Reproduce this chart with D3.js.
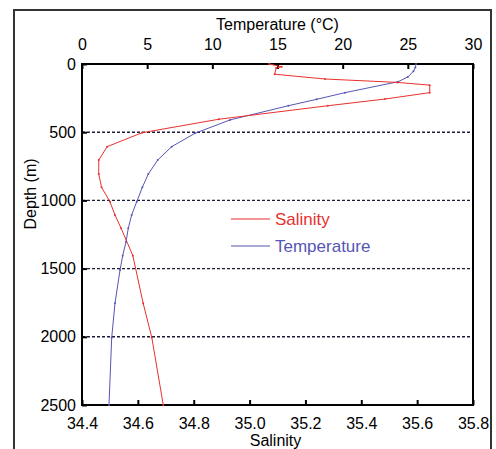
<!DOCTYPE html>
<html>
<head>
<meta charset="utf-8">
<script src="https://cdn.jsdelivr.net/npm/d3@7"></script>
<style>
  body { margin: 0; background: #fff; }
  svg { font-family: "Liberation Sans", Arial, sans-serif; }
</style>
</head>
<body>
<svg id="chart" width="496" height="449"></svg>
<script>
// Data
var salDepth = [0, 20, 30, 75, 110, 135, 155, 210, 257, 306, 405, 504, 606, 704, 806, 904, 1009, 1107, 1204, 1405, 1754, 2006, 2500];
var salinity = [35.07, 35.115, 35.095, 35.09, 35.27, 35.53, 35.645, 35.645, 35.485, 35.28, 34.89, 34.615, 34.49, 34.46, 34.46, 34.47, 34.50, 34.518, 34.54, 34.582, 34.619, 34.65, 34.691];

var tempDepth = [0, 25, 54, 95, 130, 210, 259, 306, 410, 508, 606, 704, 806, 904, 1009, 1107, 1204, 1303, 1405, 1510, 1754, 2006, 2500];
var temperature = [25.63, 25.58, 25.43, 25.0, 24.25, 20.18, 18.0, 15.83, 11.36, 8.67, 6.88, 5.81, 5.09, 4.63, 4.2, 3.81, 3.55, 3.38, 3.12, 2.92, 2.53, 2.28, 2.07];

var salTicks = [34.4, 34.6, 34.8, 35.0, 35.2, 35.4, 35.6, 35.8];
var tempTicks = [0, 5, 10, 15, 20, 25, 30];
var depthTicks = [0, 500, 1000, 1500, 2000, 2500];
var gridDepths = [500, 1000, 1500, 2000];

var legendNames = ["Salinity", "Temperature"];

const red = "#e8312f";
const blue = "#5656b4";

const svg = d3.select("#chart");

// Setup margins
const margin = { top: 64, bottom: 44, left: 82, right: 23 };
const width = 496 - margin.left - margin.right;
const height = 449 - margin.top - margin.bottom;

// outer figure frame
svg.append("path")
  .attr("d", "M14,449 V10 H491 V449")
  .attr("fill", "none")
  .attr("stroke", "#333")
  .attr("stroke-width", 2);

const plot = svg.append("g")
  .attr("transform", `translate(${margin.left}, ${margin.top})`);

const xscale_sal = d3.scaleLinear().domain([34.4, 35.8]).range([0, width]);
const xscale_temp = d3.scaleLinear().domain([0, 30]).range([0, width]);
const yscale = d3.scaleLinear().domain([0, 2500]).range([0, height]);

// grid lines
plot.selectAll(".grid")
  .data(gridDepths)
  .enter()
  .append("line")
  .attr("class", "grid")
  .attr("x1", 0)
  .attr("x2", width)
  .attr("y1", d => yscale(d))
  .attr("y2", d => yscale(d))
  .attr("stroke", "#1c1c3a")
  .attr("stroke-width", 1.4)
  .attr("stroke-dasharray", "3,2");

// axes
const xaxis_sal = d3.axisBottom(xscale_sal).tickValues(salTicks).tickFormat(d3.format(".1f")).tickSizeInner(-5).tickSizeOuter(0).tickPadding(13);
const xaxis_temp = d3.axisTop(xscale_temp).tickValues(tempTicks).tickFormat(d3.format("d")).tickSizeInner(-5).tickSizeOuter(0).tickPadding(14);
const yaxis = d3.axisLeft(yscale).tickValues(depthTicks).tickFormat(d3.format("d")).tickSizeInner(-5).tickSizeOuter(0).tickPadding(6);

function styleAxis(g) {
  g.select(".domain").remove();
  g.selectAll(".tick line").attr("stroke", "#000").attr("stroke-width", 2);
  g.selectAll(".tick text").attr("fill", "#000").style("font-size", "16px")
    .style("font-family", "Liberation Sans, Arial, sans-serif");
}

plot.append("g").attr("transform", `translate(0,${height})`).call(xaxis_sal).call(styleAxis);
plot.append("g").call(xaxis_temp).call(styleAxis);
plot.append("g").call(yaxis).call(styleAxis);

// plot box
plot.append("rect")
  .attr("x", 0).attr("y", 0)
  .attr("width", width).attr("height", height)
  .attr("fill", "none")
  .attr("stroke", "#000")
  .attr("stroke-width", 2);

// lines
const salData = salDepth.map((d, i) => ({ d: d, v: salinity[i] }));
const tempData = tempDepth.map((d, i) => ({ d: d, v: temperature[i] }));

const salLine = d3.line().x(p => xscale_sal(p.v)).y(p => yscale(p.d));
const tempLine = d3.line().x(p => xscale_temp(p.v)).y(p => yscale(p.d));

plot.append("path").datum(tempData)
  .attr("d", tempLine).attr("fill", "none").attr("stroke", blue).attr("stroke-width", 1);
plot.append("path").datum(salData)
  .attr("d", salLine).attr("fill", "none").attr("stroke", red).attr("stroke-width", 1);

plot.selectAll(".tdot").data(tempData).enter().append("circle")
  .attr("class", "tdot")
  .attr("cx", p => xscale_temp(p.v)).attr("cy", p => yscale(p.d))
  .attr("r", 1).attr("fill", blue);
plot.selectAll(".sdot").data(salData).enter().append("circle")
  .attr("class", "sdot")
  .attr("cx", p => xscale_sal(p.v)).attr("cy", p => yscale(p.d))
  .attr("r", 1).attr("fill", red);

// legend
const legend = svg.append("g").attr("transform", "translate(231, 219)");
legend.selectAll("line").data(legendNames).enter().append("line")
  .attr("x1", 0).attr("x2", 39)
  .attr("y1", (d, i) => i * 27).attr("y2", (d, i) => i * 27)
  .attr("stroke", (d, i) => i == 0 ? red : blue)
  .attr("stroke-width", 1.2);
legend.selectAll("text").data(legendNames).enter().append("text")
  .attr("x", 44)
  .attr("y", (d, i) => i * 27 + 6)
  .attr("fill", (d, i) => i == 0 ? red : blue)
  .style("font-size", "17px")
  .text(d => d);

// axis titles
svg.append("text")
  .attr("x", margin.left + width / 2)
  .attr("y", 30)
  .attr("text-anchor", "middle")
  .style("font-size", "16px")
  .text("Temperature (°C)");

svg.append("text")
  .attr("x", margin.left + width / 2 - 2)
  .attr("y", 446)
  .attr("text-anchor", "middle")
  .style("font-size", "16px")
  .text("Salinity");

svg.append("text")
  .attr("transform", "translate(36, 194) rotate(-90)")
  .attr("text-anchor", "middle")
  .style("font-size", "16px")
  .text("Depth (m)");
</script>
</body>
</html>
